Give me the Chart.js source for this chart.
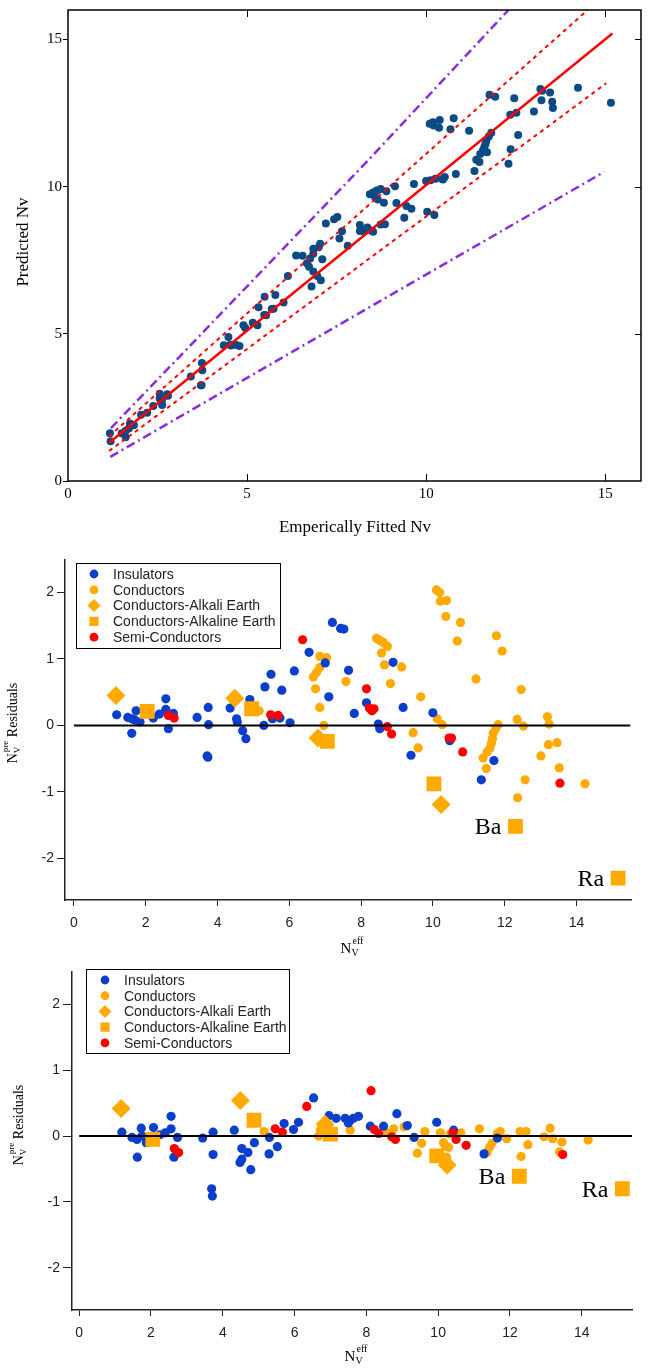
<!DOCTYPE html>
<html>
<head>
<meta charset="utf-8">
<script src="https://cdn.jsdelivr.net/npm/chart.js@4.4.0/dist/chart.umd.min.js"></script>
<style>
  html, body { margin: 0; padding: 0; background: #fff; }
  canvas { position: absolute; left: 0; }
</style>
</head>
<body>
<canvas id="fitChart" width="651" height="548" style="top:0px"></canvas>
<canvas id="residChartA" width="651" height="412" style="top:548px"></canvas>
<canvas id="residChartB" width="651" height="408" style="top:960px"></canvas>
<script>
// ---- top panel: empirically fitted vs predicted Nv ----
const empiricalNv = [1.19,1.50,1.61,1.73,1.61,1.84,1.70,2.21,2.38,2.56,2.56,2.77,2.63,3.43,3.74,3.75,3.71,3.73,4.35,4.90,
  4.53,4.55,4.70,4.79,5.29,5.32,5.49,5.53,5.74,5.79,6.02,6.14,6.55,7.00,7.10,7.20,7.43,7.52,7.65,7.81,
  8.15,8.48,8.52,8.89,9.17,9.39,10.00,10.47,11.70,11.35,
  5.16,6.85,7.04,6.85,6.76,6.67,6.73,6.85,6.96,7.58,8.43,8.52,8.62,8.73,8.57,8.65,9.13,8.82,9.45,9.59,
  9.66,10.12,10.26,10.10,10.19,10.21,10.38,10.36,10.77,10.68,11.77,11.93,11.20,12.46,12.35,12.52,13.19,13.24,11.82,11.75,
  11.68,11.66,11.63,11.59,11.51,11.40,11.49,12.57,12.36,13.01,13.22,13.46,13.52,14.24,
  1.17,4.48,6.80,10.23,
  2.04,4.95,7.06,10.03,12.30,15.16,
  2.63,2.79,5.48,5.69,6.37,8.15,8.23,8.30,8.36,8.73,8.85,10.45,10.52,10.83,13.54];
const predictedNv = [1.35,1.62,1.71,1.95,1.49,1.89,1.78,2.32,2.55,2.96,2.80,2.95,2.58,3.55,4.01,3.76,3.25,3.25,4.61,5.29,
  4.63,4.60,4.62,4.59,5.29,5.90,6.26,5.63,5.85,6.32,6.06,6.96,7.65,7.94,7.53,8.75,8.89,8.97,8.48,7.99,
  8.49,8.50,8.47,9.84,9.44,8.94,10.19,10.24,11.17,10.53,
  5.38,7.89,8.06,7.72,7.56,7.40,7.28,7.12,6.96,8.24,9.74,9.80,9.87,9.92,9.66,9.56,10.01,9.45,9.34,9.25,
  10.09,10.22,10.27,12.14,12.19,12.08,12.26,12.00,12.32,11.95,13.12,13.05,11.90,13.00,12.44,12.51,13.32,13.26,11.83,11.70,
  11.56,11.46,11.36,11.24,11.11,10.91,10.84,11.75,11.27,12.55,12.93,13.20,12.88,13.36,
  1.62,4.89,6.61,9.04,
  2.25,5.20,6.82,9.15,10.78,12.85,
  2.78,2.90,5.64,5.84,7.66,8.70,8.49,8.52,8.61,8.71,8.72,10.26,10.33,10.43,12.67];

const fitLineX = [1.15, 15.2],   fitLineY = [1.30, 15.2];
const confUpperX = [1.15, 14.51], confUpperY = [1.52, 16.0];
const confLowerX = [1.15, 15.03], confLowerY = [1.02, 13.51];
const predUpperX = [1.2, 8.34, 12.3], predUpperY = [1.8, 10.84, 16.0];
const predLowerX = [1.18, 14.97], predLowerY = [0.82, 10.5];
const fitTicks = [0, 5, 10, 15];

// ---- middle panel: residuals ----
const residAInsulators = [[1.19,0.16],[1.50,0.12],[1.61,0.10],[1.73,0.22],[1.61,-0.12],[1.84,0.05],[1.70,0.08],[2.21,0.11],[2.38,0.17],[2.56,0.40],
  [2.56,0.24],[2.77,0.18],[2.63,-0.05],[3.43,0.12],[3.74,0.27],[3.75,0.01],[3.71,-0.46],[3.73,-0.48],[4.35,0.26],[4.90,0.39],
  [4.53,0.10],[4.55,0.05],[4.70,-0.08],[4.79,-0.20],[5.29,0.00],[5.32,0.58],[5.49,0.77],[5.53,0.10],[5.74,0.11],[5.79,0.53],
  [6.02,0.04],[6.14,0.82],[6.55,1.10],[7.00,0.94],[7.10,0.43],[7.20,1.55],[7.43,1.46],[7.52,1.45],[7.65,0.83],[7.81,0.18],
  [8.15,0.34],[8.48,0.02],[8.52,-0.05],[8.89,0.95],[9.17,0.27],[9.39,-0.45],[10.00,0.19],[10.47,-0.23],[11.70,-0.53],[11.35,-0.82]];
const residAConductors = [[5.16,0.22],[6.85,1.04],[7.04,1.02],[6.85,0.87],[6.76,0.80],[6.67,0.73],[6.73,0.55],[6.85,0.27],[6.96,0.00],[7.58,0.66],
  [8.43,1.31],[8.52,1.28],[8.62,1.25],[8.73,1.19],[8.57,1.09],[8.65,0.91],[9.13,0.88],[8.82,0.63],[9.45,-0.11],[9.59,-0.34],
  [9.66,0.43],[10.12,0.10],[10.26,0.01],[10.10,2.04],[10.19,2.00],[10.21,1.87],[10.38,1.88],[10.36,1.64],[10.77,1.55],[10.68,1.27],
  [11.77,1.35],[11.93,1.12],[11.20,0.70],[12.46,0.54],[12.35,0.09],[12.52,-0.01],[13.19,0.13],[13.24,0.02],[11.82,0.01],[11.75,-0.05],
  [11.68,-0.12],[11.66,-0.20],[11.63,-0.27],[11.59,-0.35],[11.51,-0.40],[11.40,-0.49],[11.49,-0.65],[12.57,-0.82],[12.36,-1.09],[13.01,-0.46],
  [13.22,-0.29],[13.46,-0.26],[13.52,-0.64],[14.24,-0.88]];
const residAAlkali = [[1.17,0.45],[4.48,0.41],[6.80,-0.19],[10.23,-1.19]];
const residAAlkaline = [[2.04,0.21],[4.95,0.25],[7.06,-0.24],[10.03,-0.88],[12.30,-1.52],[15.16,-2.30]];
const residASemi = [[2.63,0.15],[2.79,0.11],[5.48,0.16],[5.69,0.15],[6.37,1.29],[8.15,0.55],[8.23,0.26],[8.30,0.22],[8.36,0.25],[8.73,-0.02],
  [8.85,-0.13],[10.45,-0.19],[10.52,-0.19],[10.83,-0.40],[13.54,-0.87]];

// ---- bottom panel: residuals ----
const residBInsulators = [[1.19,0.06],[1.47,-0.02],[1.61,-0.05],[1.73,0.12],[1.62,-0.32],[1.87,-0.10],[1.75,0.00],[2.07,0.13],[2.25,0.02],[2.40,0.05],
  [2.56,0.30],[2.56,0.11],[2.74,-0.02],[2.64,-0.32],[3.44,-0.03],[3.73,0.06],[3.73,-0.28],[3.69,-0.80],[3.71,-0.91],[4.32,0.09],
  [4.53,-0.19],[4.70,-0.25],[4.53,-0.35],[4.48,-0.40],[4.78,-0.51],[4.88,-0.10],[5.30,-0.02],[5.29,-0.27],[5.52,-0.16],[5.71,0.19],
  [5.97,0.10],[6.11,0.21],[6.53,0.58],[6.96,0.31],[7.16,0.27],[7.41,0.27],[7.50,0.20],[7.55,0.24],[7.64,0.27],[7.78,0.30],
  [8.11,0.15],[8.48,0.15],[8.85,0.34],[9.14,0.16],[9.33,-0.02],[9.96,0.21],[10.43,0.09],[11.65,-0.03],[11.28,-0.27]];
const residBConductors = [[5.15,0.07],[6.67,0.00],[6.72,0.09],[7.55,0.09],[8.57,0.05],[8.76,0.11],[9.05,0.14],[9.54,-0.11],[9.42,-0.26],[9.63,0.07],
  [10.06,0.05],[10.20,-0.15],[10.33,0.03],[10.63,0.05],[10.15,-0.10],[10.29,-0.17],[10.24,-0.32],[11.15,0.11],[11.73,0.07],[11.65,0.04],
  [11.91,-0.04],[11.50,-0.11],[11.43,-0.17],[11.36,-0.25],[12.31,-0.31],[12.50,-0.13],[12.28,0.07],[12.45,0.07],[12.95,-0.01],[13.12,0.12],
  [13.19,-0.04],[13.45,-0.09],[13.38,-0.24],[14.18,-0.06]];
const residBAlkali = [[1.17,0.42],[4.49,0.54],[6.85,0.18],[10.25,-0.44]];
const residBAlkaline = [[2.05,-0.05],[4.87,0.24],[7.00,0.03],[9.96,-0.30],[12.26,-0.61],[15.13,-0.80]];
const residBSemi = [[2.65,-0.19],[2.77,-0.25],[5.46,0.11],[5.66,0.06],[6.34,0.45],[8.13,0.69],[8.22,0.10],[8.34,0.04],[8.71,-0.01],[8.81,-0.05],
  [10.41,0.05],[10.50,-0.05],[10.78,-0.14],[13.47,-0.28]];

const categories = ['Insulators', 'Conductors', 'Conductors-Alkali Earth', 'Conductors-Alkaline Earth', 'Semi-Conductors'];
const residXTicks = [0, 2, 4, 6, 8, 10, 12, 14];
const residYTicks = [-2, -1, 0, 1, 2];
const zeroLineX = [0, 15.5];

const serif = '"Liberation Serif", "Times New Roman", serif';
const sans = '"Liberation Sans", Arial, Helvetica, sans-serif';
const blue = '#0a3fcc', orange = '#ffaa00', red = '#ff0000', navy = '#0b4a85', purple = '#8a2be2';

const toXY = (xs, ys) => xs.map((x, i) => ({x: x, y: ys[i]}));
const pairs = arr => arr.map(p => ({x: p[0], y: p[1]}));
const fixedTicks = vals => scale => { scale.ticks = vals.map(v => ({value: v})); };

// draws "N" with subscript V and a superscript, then optional rest text; returns width
function drawNv(ctx, x, y, sup, rest, big, small, dry) {
  ctx.font = big;
  const wN = ctx.measureText('N').width;
  if (!dry) ctx.fillText('N', x, y);
  ctx.font = small;
  const wV = ctx.measureText('V').width;
  const wS = ctx.measureText(sup).width;
  if (!dry) {
    ctx.fillText('V', x + wN, y + 3);
    ctx.fillText(sup, x + wN + 1, y - 9);
  }
  let w = wN + Math.max(wV, wS + 1);
  if (rest) {
    ctx.font = big;
    if (!dry) ctx.fillText(rest, x + w, y);
    w += ctx.measureText(rest).width;
  }
  return w;
}

const textLayer = {
  id: 'textLayer',
  afterDraw(chart, args, opts) {
    const ctx = chart.ctx;
    (opts.texts || []).forEach(t => {
      ctx.save();
      ctx.fillStyle = '#000';
      ctx.translate(t.x, t.y);
      if (t.rotate) ctx.rotate(-Math.PI / 2);
      if (t.sup) {
        ctx.textAlign = 'left';
        ctx.textBaseline = 'alphabetic';
        const w = drawNv(ctx, 0, 0, t.sup, t.rest, t.big, t.small, true);
        drawNv(ctx, -w / 2, 0, t.sup, t.rest, t.big, t.small, false);
      } else {
        ctx.font = t.font;
        ctx.textAlign = 'center';
        ctx.textBaseline = 'middle';
        ctx.fillText(t.text, 0, 0);
      }
      ctx.restore();
    });
  }
};

// full frame with inner ticks for the top panel
const frameTicks = {
  id: 'frameTicks',
  afterDraw(chart) {
    const {ctx, chartArea: a, scales} = chart;
    ctx.save();
    ctx.strokeStyle = '#000';
    ctx.lineWidth = 1.5;
    ctx.strokeRect(a.left, a.top, a.right - a.left, a.bottom - a.top);
    ctx.lineWidth = 1;
    ctx.beginPath();
    fitTicks.slice(1).forEach(v => {
      const px = Math.round(scales.x.getPixelForValue(v)) + 0.5;
      ctx.moveTo(px, a.bottom); ctx.lineTo(px, a.bottom - 7);
      ctx.moveTo(px, a.top); ctx.lineTo(px, a.top + 7);
      const py = Math.round(scales.y.getPixelForValue(v)) + 0.5;
      ctx.moveTo(a.right, py); ctx.lineTo(a.right - 6, py);
    });
    ctx.stroke();
    ctx.restore();
  }
};

function marker(ctx, style, x, y, r) {
  ctx.beginPath();
  if (style === 'rect') {
    ctx.rect(x - r, y - r, 2 * r, 2 * r);
  } else if (style === 'rectRot') {
    ctx.moveTo(x - r, y); ctx.lineTo(x, y - r); ctx.lineTo(x + r, y); ctx.lineTo(x, y + r); ctx.closePath();
  } else {
    ctx.arc(x, y, r, 0, Math.PI * 2);
  }
  ctx.fill();
}

// boxed legend and Ba / Ra notes on the residual panels
const residExtras = {
  id: 'residExtras',
  afterDraw(chart, args, opts) {
    const ctx = chart.ctx;
    const b = opts.box;
    ctx.save();
    ctx.fillStyle = '#fff';
    ctx.fillRect(b.x, b.y, b.w, b.h);
    ctx.strokeStyle = '#000';
    ctx.lineWidth = 1;
    ctx.strokeRect(b.x + 0.5, b.y + 0.5, b.w, b.h);
    ctx.font = '14px ' + sans;
    ctx.textAlign = 'left';
    ctx.textBaseline = 'middle';
    categories.forEach((name, i) => {
      const ds = chart.data.datasets.find(d => d.label === name);
      const yy = b.y + 11 + i * b.step;
      ctx.fillStyle = ds.backgroundColor;
      const r = ds.pointStyle === 'rect' ? 4.6 : ds.pointStyle === 'rectRot' ? 6.5 : 4.4;
      marker(ctx, ds.pointStyle, b.x + b.mx, yy, r);
      ctx.fillStyle = '#222';
      ctx.fillText(name, b.x + b.tx, yy + 1);
    });
    ctx.fillStyle = '#000';
    ctx.font = '24px ' + serif;
    ctx.textAlign = 'right';
    ctx.textBaseline = 'alphabetic';
    const idx = chart.data.datasets.findIndex(d => d.label === 'Conductors-Alkaline Earth');
    const meta = chart.getDatasetMeta(idx);
    opts.notes.forEach(n => {
      const el = meta.data[n.index];
      ctx.fillText(n.text, el.x - 14, el.y + 8);
    });
    ctx.restore();
  }
};

new Chart(document.getElementById('fitChart'), {
  type: 'scatter',
  data: {
    datasets: [
      {data: toXY(predUpperX, predUpperY), showLine: true, borderColor: purple, borderWidth: 2.5, borderDash: [9, 4, 2, 4], pointRadius: 0},
      {data: toXY(predLowerX, predLowerY), showLine: true, borderColor: purple, borderWidth: 2.5, borderDash: [9, 4, 2, 4], pointRadius: 0},
      {data: toXY(confUpperX, confUpperY), showLine: true, borderColor: red, borderWidth: 2, borderDash: [4, 4], pointRadius: 0},
      {data: toXY(confLowerX, confLowerY), showLine: true, borderColor: red, borderWidth: 2, borderDash: [4, 4], pointRadius: 0},
      {data: toXY(fitLineX, fitLineY), showLine: true, borderColor: red, borderWidth: 2.5, pointRadius: 0},
      {data: toXY(empiricalNv, predictedNv), pointRadius: 4, backgroundColor: navy, borderWidth: 0}
    ]
  },
  options: {
    responsive: false,
    animation: false,
    layout: {padding: {left: 0, right: 10, top: 8, bottom: 0}},
    plugins: {
      legend: {display: false},
      tooltip: {enabled: false},
      textLayer: {texts: [
        {text: 'Predicted Nv', x: 24, y: 242, rotate: true, font: '17px ' + serif},
        {text: 'Emperically Fitted Nv', x: 355, y: 528, font: '17px ' + serif}
      ]}
    },
    scales: {
      x: {
        type: 'linear', min: 0, max: 16,
        afterBuildTicks: fixedTicks(fitTicks),
        afterFit: s => { s.height = 67; },
        border: {display: false},
        grid: {display: true, drawOnChartArea: false, drawTicks: false},
        ticks: {color: '#000', font: {family: serif, size: 15}, padding: 4, maxRotation: 0}
      },
      y: {
        type: 'linear', min: 0, max: 16,
        afterBuildTicks: fixedTicks(fitTicks),
        afterFit: s => { s.width = 68; },
        border: {display: false},
        grid: {drawOnChartArea: false, drawTicks: true, tickLength: 5, color: '#000'},
        ticks: {color: '#000', font: {family: serif, size: 15}, padding: 1}
      }
    }
  },
  plugins: [frameTicks, textLayer]
});

function residualChart(id, sets, lay) {
  return new Chart(document.getElementById(id), {
    type: 'scatter',
    data: {
      datasets: [
        {label: 'zero', data: zeroLineX.map(x => ({x: x, y: 0})), showLine: true, borderColor: '#000', borderWidth: 2, pointRadius: 0},
        {label: 'Conductors-Alkaline Earth', data: pairs(sets.alkaline), pointStyle: 'rect', pointRadius: 10.5, backgroundColor: orange, borderWidth: 0},
        {label: 'Conductors-Alkali Earth', data: pairs(sets.alkali), pointStyle: 'rectRot', pointRadius: 9.5, backgroundColor: orange, borderWidth: 0},
        {label: 'Semi-Conductors', data: pairs(sets.semi), pointStyle: 'circle', pointRadius: 4.6, backgroundColor: red, borderWidth: 0},
        {label: 'Insulators', data: pairs(sets.insulators), pointStyle: 'circle', pointRadius: 4.6, backgroundColor: blue, borderWidth: 0},
        {label: 'Conductors', data: pairs(sets.conductors), pointStyle: 'circle', pointRadius: 4.6, backgroundColor: orange, borderWidth: 0}
      ]
    },
    options: {
      responsive: false,
      animation: false,
      layout: {padding: {left: 0, right: lay.right, top: lay.top, bottom: 0}},
      plugins: {
        legend: {display: false},
        tooltip: {enabled: false},
        textLayer: {texts: [
          {sup: 'pre', rest: ' Residuals', x: lay.yTitleX, y: lay.yTitleY, rotate: true, big: '14px ' + serif, small: '9px ' + serif},
          {sup: 'eff', x: lay.xTitleX, y: lay.xTitleY, big: '15px ' + serif, small: '10px ' + serif}
        ]},
        residExtras: {box: lay.box, notes: [{text: 'Ba', index: 4}, {text: 'Ra', index: 5}]}
      },
      scales: {
        x: {
          type: 'linear', min: lay.xMin, max: lay.xMax,
          afterBuildTicks: fixedTicks(residXTicks),
          afterFit: s => { s.height = lay.xh; },
          border: {color: '#222', width: 1.5},
          grid: {drawOnChartArea: false, drawTicks: true, tickLength: 6, color: '#222'},
          ticks: {color: '#222', font: {family: sans, size: 14}, padding: 9, maxRotation: 0}
        },
        y: {
          type: 'linear', min: lay.yMin, max: 2.5,
          afterBuildTicks: fixedTicks(residYTicks),
          afterFit: s => { s.width = lay.yw; },
          border: {color: '#222', width: 1.5},
          grid: {drawOnChartArea: false, drawTicks: true, tickLength: lay.yTick, color: '#222'},
          ticks: {color: '#222', font: {family: sans, size: 14}, padding: 3}
        }
      }
    },
    plugins: [textLayer, residExtras]
  });
}

residualChart('residChartA',
  {insulators: residAInsulators, conductors: residAConductors, alkali: residAAlkali, alkaline: residAAlkaline, semi: residASemi},
  {right: 20, top: 7, xh: 60, yw: 65, yTick: 8, xMin: -0.25, xMax: 15.52, yMin: -2.63,
   yTitleX: 17, yTitleY: 175, xTitleX: 352, xTitleY: 405,
   box: {x: 76, y: 15, w: 204, h: 85, step: 15.8, mx: 18, tx: 37}});

residualChart('residChartB',
  {insulators: residBInsulators, conductors: residBConductors, alkali: residBAlkali, alkaline: residBAlkaline, semi: residBSemi},
  {right: 19, top: 5, xh: 58, yw: 72, yTick: 9, xMin: -0.2, xMax: 15.4, yMin: -2.64,
   yTitleX: 23, yTitleY: 165, xTitleX: 356, xTitleY: 401,
   box: {x: 86, y: 9, w: 203, h: 84, step: 15.7, mx: 19, tx: 38}});
</script>
</body>
</html>
